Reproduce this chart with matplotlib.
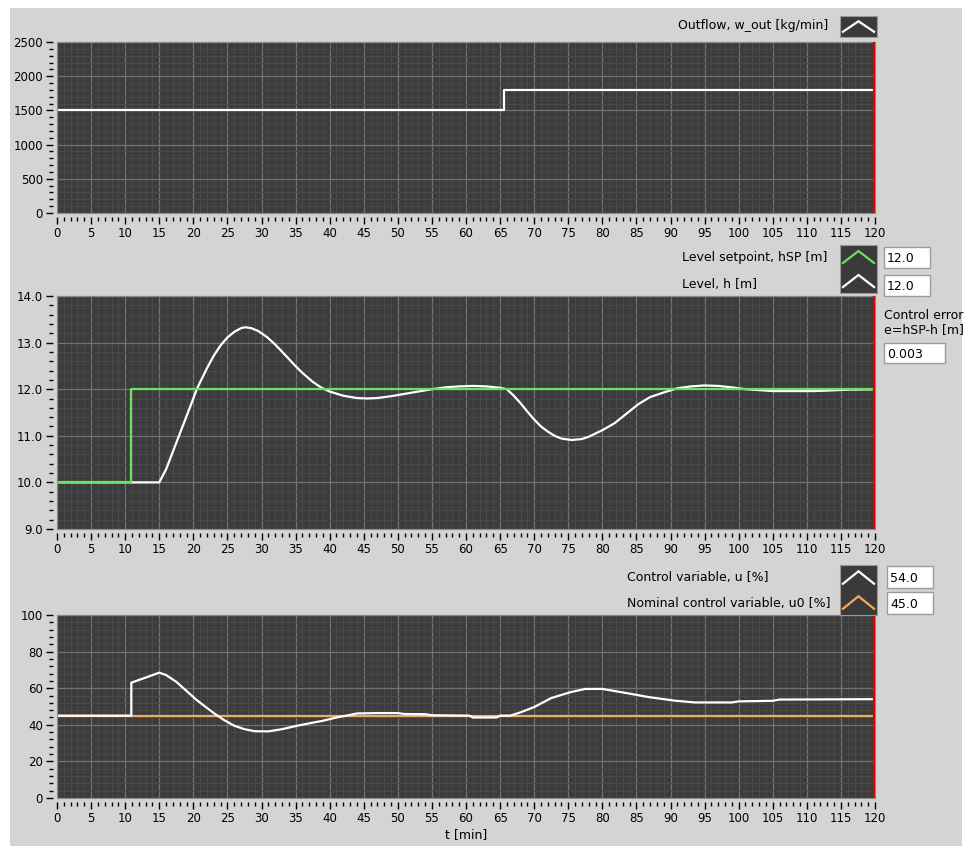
import matplotlib.pyplot as plt
from matplotlib.patches import Rectangle
from matplotlib.ticker import MultipleLocator

# outflow disturbance
t_w = [0, 65.6, 65.6, 120]
w_out = [1500, 1500, 1800, 1800]

# level setpoint
t_sp = [0, 10.9, 10.9, 120]
h_sp = [10.0, 10.0, 12.0, 12.0]

# measured level
t_h = [0, 15, 16, 17, 18, 19, 20, 20.5, 22, 23, 24, 25, 26, 27, 27.6, 28.5, 29.5, 30.8,
       32, 33.5, 34.7, 36, 37.5, 38.7, 40, 42, 44, 45.5, 47, 49, 51, 53, 55, 57, 59,
       61, 63, 65, 66, 67, 68, 69, 70, 71, 72, 73, 74, 75.5, 77, 78, 79, 80, 81.8,
       83.5, 85.3, 87, 89, 91, 93, 95, 97, 99, 101, 103, 105, 108, 111, 113, 116, 120]
h = [10.0, 10.0, 10.28, 10.66, 11.04, 11.42, 11.8, 12.0, 12.45, 12.72, 12.94, 13.11, 13.23,
     13.31, 13.33, 13.31, 13.25, 13.12, 12.96, 12.73, 12.54, 12.35, 12.16, 12.04, 11.95,
     11.86, 11.81, 11.80, 11.81, 11.85, 11.9, 11.95, 12.0, 12.04, 12.06, 12.07, 12.06,
     12.03, 12.0, 11.86, 11.7, 11.52, 11.35, 11.2, 11.09, 11.0, 10.94, 10.91, 10.93,
     10.98, 11.05, 11.12, 11.27, 11.47, 11.68, 11.83, 11.93, 12.02, 12.06, 12.08, 12.07,
     12.04, 12.0, 11.98, 11.96, 11.96, 11.96, 11.97, 11.99, 11.997]

# controller output and its nominal value
t_u = [0, 10.9, 10.9, 13, 15, 16, 17.5, 19, 20.5, 22, 23, 24.5, 26, 27.5, 29, 31, 33,
       35, 37, 39, 41, 43, 44, 47, 50, 51, 54, 55, 60.5, 61, 64.5, 65, 66.5, 68, 70,
       72.5, 75.4, 77.5, 80, 83.3, 86.7, 90.6, 93.6, 99, 100, 105, 106, 120]
u = [45.0, 45.0, 63.0, 65.8, 68.5, 67.2, 63.5, 58.5, 53.5, 49.2, 46.4, 42.6, 39.5, 37.6,
     36.5, 36.4, 37.6, 39.3, 40.8, 42.2, 44.0, 45.4, 46.2, 46.4, 46.4, 45.9, 45.8, 45.2,
     45.0, 44.0, 44.0, 45.0, 45.0, 46.8, 49.7, 54.6, 57.9, 59.6, 59.6, 57.5, 55.2, 53.2,
     52.2, 52.2, 52.8, 53.1, 53.8, 54.0]
u0 = 45.0

t_end = 120

PANEL = '#d4d4d4'
PLOT_BG = '#3c3c3c'
MINOR = '#494949'
MAJOR = '#727272'
GREEN = '#66e65c'
ORANGE = '#f5a861'
LABEL_FS = 9

plt.rcParams['font.family'] = ['DejaVu Sans']
plt.rcParams['font.size'] = 8

W, H = 965, 846
fig = plt.figure(figsize=(W / 100, H / 100), dpi=100)
fig.patch.set_facecolor('white')


def px(x, y, w=0, h=0):
    """pixel box (top-left origin) -> figure fraction rect"""
    return [x / W, 1 - (y + h) / H, w / W, h / H]


def fpt(x, y):
    return x / W, 1 - y / H


# grey front panel
fig.patches.append(Rectangle((10 / W, 0), 952 / W, 1 - 8 / H, transform=fig.transFigure,
                             facecolor=PANEL, edgecolor='none', zorder=-10))


def make_chart(top, bottom, ylim, ymaj, ymin, yfmt):
    ax = fig.add_axes(px(57, top, 818, bottom - top))
    ax.set_facecolor(PLOT_BG)
    ax.set_xlim(0, t_end)
    ax.set_ylim(*ylim)
    ax.xaxis.set_major_locator(MultipleLocator(5))
    ax.xaxis.set_minor_locator(MultipleLocator(1))
    ax.yaxis.set_major_locator(MultipleLocator(ymaj))
    ax.yaxis.set_minor_locator(MultipleLocator(ymin))
    ax.yaxis.set_major_formatter(yfmt)
    ax.grid(which='minor', color=MINOR, lw=0.8)
    ax.grid(which='major', color=MAJOR, lw=0.9)
    ax.set_axisbelow(True)
    for side in ('left', 'bottom'):
        ax.spines[side].set_position(('outward', 3))
        ax.spines[side].set_visible(False)
    for side in ('top', 'right'):
        ax.spines[side].set_color('#8a8a8a')
        ax.spines[side].set_linewidth(0.8)
    ax.add_patch(Rectangle((0, 0), 1, 1, transform=ax.transAxes, fill=False,
                           edgecolor='#8a8a8a', lw=0.8, clip_on=False, zorder=5))
    ax.tick_params(which='major', length=5, width=1, color='black', labelsize=8.5, pad=2)
    ax.tick_params(which='minor', length=3, width=1, color='black')
    ax.axvline(t_end - 0.15, color='#e00000', lw=1.6, zorder=6)
    return ax


def swatch(x, y, w, h, colors):
    sax = fig.add_axes(px(x, y, w, h))
    sax.set_facecolor('#3a3a3a')
    sax.set_xlim(0, 1)
    sax.set_ylim(0, len(colors))
    sax.set_xticks([])
    sax.set_yticks([])
    for s in sax.spines.values():
        s.set_color('#9a9a9a')
        s.set_linewidth(0.8)
    for i, c in enumerate(reversed(colors)):
        sax.plot([0.08, 0.5, 0.92], [i + 0.25, i + 0.75, i + 0.25], color=c, lw=1.6,
                 solid_joinstyle='miter')


def value_box(x, y, w, h, text):
    fig.patches.append(Rectangle((x / W, 1 - (y + h) / H), w / W, h / H,
                                 transform=fig.transFigure,
                                 facecolor='white', edgecolor='#9c9c9c', lw=1.0))
    fig.text(*fpt(x + 3, y + h / 2 + 1), text, ha='left', va='center', fontsize=LABEL_FS)


def label(x, y, text, ha='left'):
    fig.text(*fpt(x, y), text, ha=ha, va='center', fontsize=LABEL_FS)


# --- outflow chart
ax1 = make_chart(42, 213, (0, 2500), 500, 100, '{x:.0f}')
ax1.plot(t_w, w_out, color='white', lw=1.6, zorder=4)
label(828, 26, 'Outflow, w_out [kg/min]', ha='right')
swatch(840, 16, 37, 21, ['white'])

# --- level chart
ax2 = make_chart(296, 529, (9, 14), 1.0, 0.2, '{x:.1f}')
ax2.plot(t_h, h, color='white', lw=1.6, zorder=3)
ax2.plot(t_sp, h_sp, color=GREEN, lw=1.6, zorder=4)
label(682, 258, 'Level setpoint, hSP [m]')
label(682, 284, 'Level, h [m]')
swatch(840, 245, 37, 48, [GREEN, 'white'])
value_box(884, 247, 46, 21, f'{h_sp[-1]:.1f}')
value_box(884, 275, 46, 21, f'{h[-1]:.1f}')
label(884, 315, 'Control error')
label(884, 330, 'e=hSP-h [m]')
value_box(884, 343, 61, 20, f'{h_sp[-1] - h[-1]:.3f}')

# --- control variable chart
ax3 = make_chart(615, 798, (0, 100), 20, 4, '{x:.0f}')
ax3.plot([0, t_end], [u0, u0], color=ORANGE, lw=1.6, zorder=3)
ax3.plot(t_u, u, color='white', lw=1.6, zorder=4)
ax3.set_xlabel('t [min]', fontsize=LABEL_FS, labelpad=2)
label(627, 577, 'Control variable, u [%]')
label(627, 603, 'Nominal control variable, u0 [%]')
swatch(840, 565, 37, 50, ['white', ORANGE])
value_box(887, 566, 46, 22, f'{u[-1]:.1f}')
value_box(887, 592, 46, 22, f'{u0:.1f}')

fig.savefig('out.png', dpi=100, facecolor=fig.get_facecolor())
